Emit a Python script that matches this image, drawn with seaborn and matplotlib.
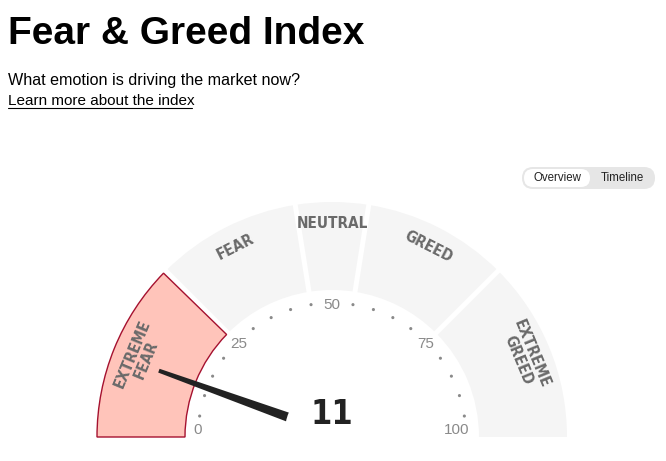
import numpy as np
import pandas as pd
import matplotlib
matplotlib.use("Agg")
import matplotlib.pyplot as plt
import seaborn as sns
from matplotlib.patches import Wedge, Polygon, FancyBboxPatch, Circle, Rectangle

# Gauge data
segment_names = ["EXTREME\nFEAR", "FEAR", "NEUTRAL", "GREED", "EXTREME\nGREED"]
segment_bounds = [0, 25, 45, 55, 75, 100]
current_value = 11
active_segment = 0
tick_labels = [0, 25, 50, 75, 100]
dot_values = [5, 10, 15, 20, 30, 35, 40, 45, 55, 60, 65, 70, 80, 85, 90, 95]

title = "Fear & Greed Index"
subtitle = "What emotion is driving the market now?"
link_text = "Learn more about the index"
toggle_labels = ["Overview", "Timeline"]

sns.set_theme(style="white")
plt.rcParams['font.family'] = ['Liberation Sans', 'DejaVu Sans']

W, H = 666, 461
fig = plt.figure(figsize=(W / 100, H / 100), dpi=100)
ax = fig.add_axes([0, 0, 1, 1])


def Y(y):
    return H - y


def ang(v):
    return 180 - v * 1.8


def polar(r, v):
    a = np.deg2rad(ang(v))
    return cx + r * np.cos(a), cy + r * np.sin(a)


# Header texts
ax.text(8, Y(44), title, fontsize=28, fontweight="bold", va="baseline", ha="left", color="black")
ax.text(8, Y(85), subtitle, fontsize=11.6, va="baseline", ha="left", color="black")
ax.text(8, Y(105), link_text, fontsize=11, va="baseline", ha="left", color="black")
ax.plot([8, 192], [Y(108), Y(108)], color="black", lw=0.8)

# Toggle
ax.add_patch(FancyBboxPatch((522, Y(189)), 133, 22, boxstyle="round,pad=0,rounding_size=11",
                            fc="#e6e6e6", ec="none"))
ax.add_patch(FancyBboxPatch((524, Y(187)), 66, 18, boxstyle="round,pad=0,rounding_size=9",
                            fc="white", ec="none"))
ax.text(557, Y(178), toggle_labels[0], fontsize=8.3, ha="center", va="center", color="#222")
ax.text(622, Y(178), toggle_labels[1], fontsize=8.3, ha="center", va="center", color="#222")

# Gauge
cx, cy = 332, Y(437)
r_out, r_in = 235, 147
band = r_out - r_in

for i in range(len(segment_names)):
    lo, hi = segment_bounds[i], segment_bounds[i + 1]
    ax.add_patch(Wedge((cx, cy), r_out, ang(hi), ang(lo), width=band, fc="#f5f5f5", ec="none", zorder=1))
for b in segment_bounds[1:-1]:
    x0, y0 = polar(r_in - 2, b)
    x1, y1 = polar(r_out + 2, b)
    ax.plot([x0, x1], [y0, y1], color="white", lw=3.6, zorder=2, solid_capstyle="butt")

lo, hi = segment_bounds[active_segment], segment_bounds[active_segment + 1]
ax.add_patch(Wedge((cx, cy), r_out, ang(hi) + 0.8, ang(lo), width=band, fc="#ffc4ba", ec="#a5112f",
                   lw=1.0, zorder=3))

# Segment labels
for i, name in enumerate(segment_names):
    mid = (segment_bounds[i] + segment_bounds[i + 1]) / 2
    r = 209 if "\n" in name else 213
    x, y = polar(r, mid)
    ax.text(x, y, name, rotation=ang(mid) - 90, rotation_mode="anchor", ha="center", va="center",
            fontsize=11, fontweight="bold", fontstretch="condensed", family="DejaVu Sans",
            color="#6a6a6a", linespacing=1.0, zorder=4)

# Tick dots
dots = pd.DataFrame({"v": dot_values})
dots["x"] = [polar(134, v)[0] for v in dots["v"]]
dots["y"] = [polar(134, v)[1] for v in dots["v"]]
sns.scatterplot(data=dots, x="x", y="y", ax=ax, s=5, color="#8a8a8a", edgecolor="none", zorder=4, legend=False)

# Tick labels
for v in tick_labels:
    x, y = polar(132, v)
    if v in (0, 100):
        x = cx + (-134 if v == 0 else 125)
        y = cy + 7
    ax.text(x, y, str(v), fontsize=11, ha="center", va="center", color="#8a8a8a", zorder=4)

# Soft shadow around the centre disk
dc = (cx, Y(431))
for r in np.linspace(82, 47, 30):
    ax.add_patch(Circle(dc, r, fc="black", alpha=0.0016, ec="none", zorder=5))
ax.add_patch(Rectangle((0, 0), W, Y(438), fc="white", ec="none", zorder=5.5))

# Needle
pivot = np.array([cx, Y(433)])
a = np.deg2rad(ang(current_value))
d = np.array([np.cos(a), np.sin(a)])
n = np.array([-d[1], d[0]])
tip = pivot + d * 184
base = pivot + d * 25
pts = [base + n * 5.0, tip + n * 2.0, tip - n * 2.0, base - n * 5.0]
ax.add_patch(Polygon(pts, closed=True, fc="#222222", ec="none", zorder=6))

# Centre disk and value
ax.add_patch(Circle(dc, 47, fc="white", ec="none", zorder=7))
ax.text(cx, Y(414.5), str(current_value), fontsize=24.5, fontweight="bold", fontstretch="condensed",
        family="DejaVu Sans", ha="center", va="center", color="#222222", zorder=8)

ax.set_xlim(0, W)
ax.set_ylim(0, H)
ax.axis("off")

fig.savefig("out.png", dpi=100)
